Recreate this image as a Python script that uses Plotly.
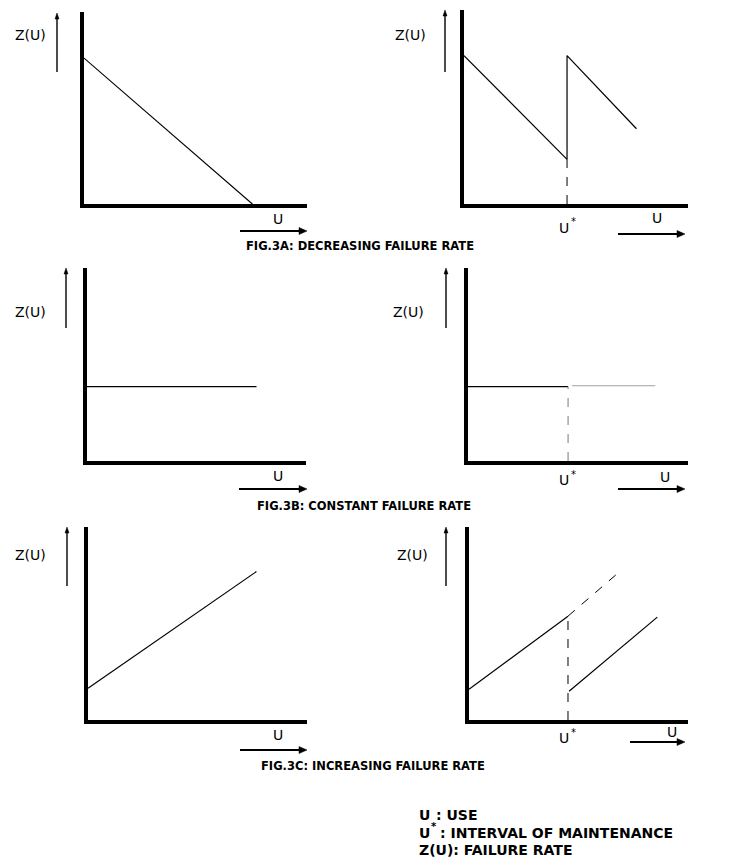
import plotly.graph_objects as go

# Failure rate sketches: U = use, Z(U) = failure rate; each panel runs 0..10 on both axes
dec_u = [0, 7.55]
dec_z = [7.6, 0]

dec_maint_u = [0, 4.6, 4.6, 7.7]
dec_maint_z = [7.65, 2.3, 7.65, 3.88]

const_u = [0, 7.74]
const_z = [3.85, 3.85]

const_maint_u = [0, 4.55]
const_maint_z = [3.85, 3.85]
const_after_u = [4.73, 8.51]
const_after_z = [3.9, 3.9]

inc_u = [0, 7.69]
inc_z = [1.64, 7.69]

inc_maint_u = [0, 4.52]
inc_maint_z = [1.59, 5.38]
inc_ext_u = [4.52, 6.83]
inc_ext_z = [5.38, 7.64]
inc_after_u = [4.57, 8.6]
inc_after_z = [1.49, 5.33]

captions = [
    "FIG.3A: DECREASING FAILURE RATE",
    "FIG.3B: CONSTANT FAILURE RATE",
    "FIG.3C: INCREASING FAILURE RATE",
]

# page is 731x868 but the browser body keeps an 8px margin round the plot
PAGE_W, PAGE_H, BODY = 731, 868, 8
W, H = PAGE_W - 2 * BODY, PAGE_H - 2 * BODY


def px(x):
    return (x - BODY) / W


def py(y):
    return 1 - (y - BODY) / H


# panel frames in page pixels: left, right, top, bottom
panels = [
    (82, 307, 12, 206), (462, 688, 10, 206),
    (85, 306, 268, 463), (466, 688, 268, 463),
    (86, 307, 527, 722), (467, 688, 527, 722),
]

fig = go.Figure()


def add_line(i, u, z, color="black", width=1.2, dash="solid"):
    fig.add_trace(go.Scatter(
        x=u, y=z, mode="lines",
        line=dict(color=color, width=width, dash=dash),
        xaxis="x" if i == 1 else f"x{i}",
        yaxis="y" if i == 1 else f"y{i}",
        showlegend=False, hoverinfo="skip", cliponaxis=False,
    ))


add_line(1, dec_u, dec_z)
add_line(2, dec_maint_u, dec_maint_z)
add_line(2, [dec_maint_u[1]] * 2, [0, dec_maint_z[1]], width=1, dash="dash")

add_line(3, const_u, const_z)
add_line(4, const_maint_u, const_maint_z)
add_line(4, const_after_u, const_after_z, color="#a0a0a0", width=1.2)
add_line(4, [const_maint_u[1]] * 2, [0, const_maint_z[1]],
         color="#a0a0a0", width=1.4, dash="dash")

add_line(5, inc_u, inc_z)
add_line(6, inc_maint_u, inc_maint_z)
add_line(6, inc_ext_u, inc_ext_z, width=1, dash="dash")
add_line(6, [inc_maint_u[1]] * 2, [0, inc_maint_z[1]], width=1, dash="dash")
add_line(6, inc_after_u, inc_after_z)

layout_axes = {}
for i, (x0, x1, y0, y1) in enumerate(panels, 1):
    sx = "" if i == 1 else str(i)
    common = dict(range=[0, 10], showline=True, linewidth=4, linecolor="black",
                  showgrid=False, zeroline=False, showticklabels=False,
                  ticks="", fixedrange=True)
    # axis lines sit just outside the domain, so pull the domain in by 2px
    layout_axes["xaxis" + sx] = dict(domain=[px(x0 + 2), px(x1)], anchor="y" + sx, **common)
    layout_axes["yaxis" + sx] = dict(domain=[py(y1 - 2), py(y0)], anchor="x" + sx, **common)

annotations = []
shapes = []
label_font = dict(family="DejaVu Sans", size=14, color="black")
star_font = dict(family="DejaVu Sans", size=10, color="black")


def text(x, y, s, font=label_font, xanchor="center"):
    annotations.append(dict(
        x=px(x), y=py(y), xref="paper", yref="paper", text=s, showarrow=False,
        font=font, xanchor=xanchor, yanchor="middle",
    ))


def arrow_up(x, top, bot, width=1.4):
    shapes.append(dict(type="line", xref="paper", yref="paper",
                       x0=px(x), x1=px(x), y0=py(bot), y1=py(top + 4),
                       line=dict(color="black", width=width)))
    shapes.append(dict(type="path", xref="paper", yref="paper",
                       path=f"M {px(x)},{py(top)} L {px(x - 2)},{py(top + 6)} "
                            f"L {px(x + 2)},{py(top + 6)} Z",
                       fillcolor="black", line=dict(color="black", width=0.5)))


def arrow_right(x0, x1, y, width=2.2):
    shapes.append(dict(type="line", xref="paper", yref="paper",
                       x0=px(x0), x1=px(x1 - 5), y0=py(y), y1=py(y),
                       line=dict(color="black", width=width)))
    shapes.append(dict(type="path", xref="paper", yref="paper",
                       path=f"M {px(x1)},{py(y)} L {px(x1 - 8)},{py(y - 3.5)} "
                            f"L {px(x1 - 8)},{py(y + 3.5)} Z",
                       fillcolor="black", line=dict(color="black", width=0.5)))


# Z(U) labels with upward arrows
zlabels = [(30, 35, 57, 13, 72), (410, 35, 445, 10, 72),
           (31, 312, 66, 268, 328), (408, 312, 446, 268, 328),
           (31, 555, 67, 527, 586), (412, 555, 446, 527, 586)]
for lx, ly, ax_x, top, bot in zlabels:
    text(lx, ly, "Z(U)")
    arrow_up(ax_x, top, bot)

# U labels with rightward arrows
ulabels = [(278, 219, 240, 307, 231), (657, 218, 618, 685, 234),
           (278, 476, 239, 307, 489), (665, 477, 618, 685, 489),
           (278, 735, 240, 307, 750), (672, 732, 630, 685, 742)]
for lx, ly, a0, a1, ay in ulabels:
    text(lx, ly, "U")
    arrow_right(a0, a1, ay)

# U* marks under the maintenance interval
for lx, ly in [(567, 228), (567, 480), (567, 738)]:
    text(lx - 3, ly, "U")
    text(lx + 6, ly - 6, "*", font=star_font)

cap_font = dict(family="DejaVu Sans", size=11.5, color="black", weight="bold")
for (cx, cy), s in zip([(360, 246), (364, 506), (373, 766)], captions):
    text(cx, cy, s, font=cap_font)

leg_font = dict(family="DejaVu Sans", size=14, color="black", weight="bold")
leg_star = dict(family="DejaVu Sans", size=10, color="black", weight="bold")
text(417, 815, "U", font=leg_font, xanchor="left")
text(434, 815, ": USE", font=leg_font, xanchor="left")
text(417, 833, "U", font=leg_font, xanchor="left")
text(429, 826, "*", font=leg_star, xanchor="left")
text(438, 833, ": INTERVAL OF MAINTENANCE", font=leg_font, xanchor="left")
text(417, 850, "Z(U): FAILURE RATE", font=leg_font, xanchor="left")

fig.update_layout(
    width=W, height=H, autosize=False,
    margin=dict(l=0, r=0, t=0, b=0),
    paper_bgcolor="white", plot_bgcolor="white",
    showlegend=False, annotations=annotations, shapes=shapes,
    **layout_axes,
)

fig.write_html("out.html", config=dict(displayModeBar=False))
